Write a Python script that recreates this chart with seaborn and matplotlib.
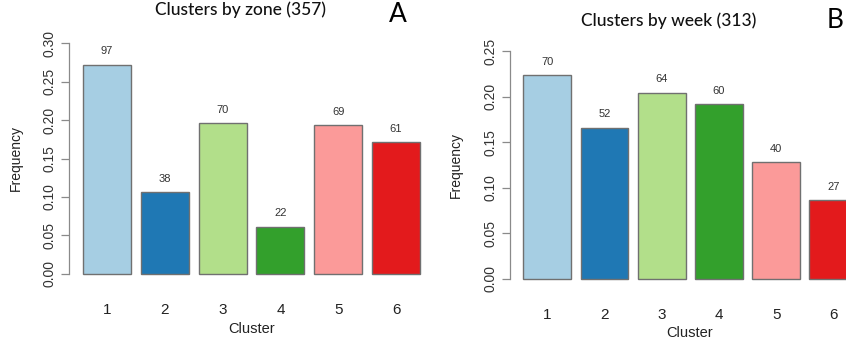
import matplotlib
matplotlib.use("Agg")
import matplotlib.pyplot as plt
import seaborn as sns
import pandas as pd

clusters = ["1", "2", "3", "4", "5", "6"]
zone_counts = [97, 38, 70, 22, 69, 61]
zone_freq = [0.2717, 0.1064, 0.1961, 0.0616, 0.1933, 0.1709]
week_counts = [70, 52, 64, 60, 40, 27]
week_freq = [0.2236, 0.1661, 0.2045, 0.1917, 0.1278, 0.0863]
zone_ticks = [0.00, 0.05, 0.10, 0.15, 0.20, 0.25, 0.30]
week_ticks = [0.00, 0.05, 0.10, 0.15, 0.20, 0.25]
colors = ["#A6CEE3", "#1F78B4", "#B2DF8A", "#33A02C", "#FB9A99", "#E31A1C"]

sns.set_style("white")
plt.rcParams["font.family"] = ["Liberation Sans", "DejaVu Sans"]

W, H = 846, 342
fig = plt.figure(figsize=(W / 100, H / 100), dpi=100)


def px_axes(left, right, top, bottom):
    return fig.add_axes([left / W, 1 - bottom / H, (right - left) / W, (bottom - top) / H])


def panel(ax, freq, counts, ticks, ylim, title, letter, title_xy, letter_xy,
          ylab_x, xlab_y):
    df = pd.DataFrame({"Cluster": clusters, "Frequency": freq})
    sns.barplot(data=df, x="Cluster", y="Frequency", hue="Cluster",
                palette=colors, legend=False, width=0.833, ax=ax,
                edgecolor="#707070", linewidth=1.0, saturation=1)
    ax.set_xlim(-0.65, 5.65)
    ax.set_ylim(*ylim)
    ax.set_yticks(ticks)
    ax.set_yticklabels([f"{t:.2f}" for t in ticks], rotation=90, va="center",
                       fontsize=10, color="#333333")
    ax.tick_params(axis="y", direction="out", length=6, width=0.9,
                   color="#8a8a8a", pad=3, left=True)
    ax.tick_params(axis="x", length=0, pad=14, labelsize=11,
                   labelcolor="#222222")
    for s in ["top", "right", "bottom"]:
        ax.spines[s].set_visible(False)
    ax.spines["left"].set_bounds(ticks[0], ticks[-1])
    ax.spines["left"].set_color("#8a8a8a")
    ax.spines["left"].set_linewidth(0.9)
    ax.set_xlabel("")
    ax.set_ylabel("")
    for i, (c, f) in enumerate(zip(counts, freq)):
        ax.annotate(str(c), (i, f), xytext=(0, 6), textcoords="offset points",
                    ha="center", va="bottom", fontsize=8, color="#333333")
    fig.text(title_xy[0] / W, 1 - title_xy[1] / H, title, ha="center",
             va="center", fontsize=12.5, family=["Lato", "DejaVu Sans"],
             fontweight="medium", color="#111111")
    fig.text(letter_xy[0] / W, 1 - letter_xy[1] / H, letter, ha="center",
             va="center", fontsize=19, family=["Lato", "DejaVu Sans"],
             color="#000000")
    fig.text(ylab_x[0] / W, 1 - ylab_x[1] / H, "Frequency", rotation=90,
             ha="center", va="center", fontsize=10, color="#222222")
    fig.text(xlab_y[0] / W, 1 - xlab_y[1] / H, "Cluster", ha="center",
             va="center", fontsize=10.5, color="#222222")


axA = px_axes(69.4, 433.6, 33.8, 283.2)
panel(axA, zone_freq, zone_counts, zone_ticks, (-0.012, 0.312),
      "Clusters by zone (357)", "A", (240, 10), (398, 15), (16, 158), (252, 329))

axB = px_axes(510.1, 870.5, 41.9, 288.1)
panel(axB, week_freq, week_counts, week_ticks, (-0.01, 0.26),
      "Clusters by week (313)", "B", (669, 21), (835, 21), (456, 165), (690, 333))

fig.savefig("out.png", dpi=100)
